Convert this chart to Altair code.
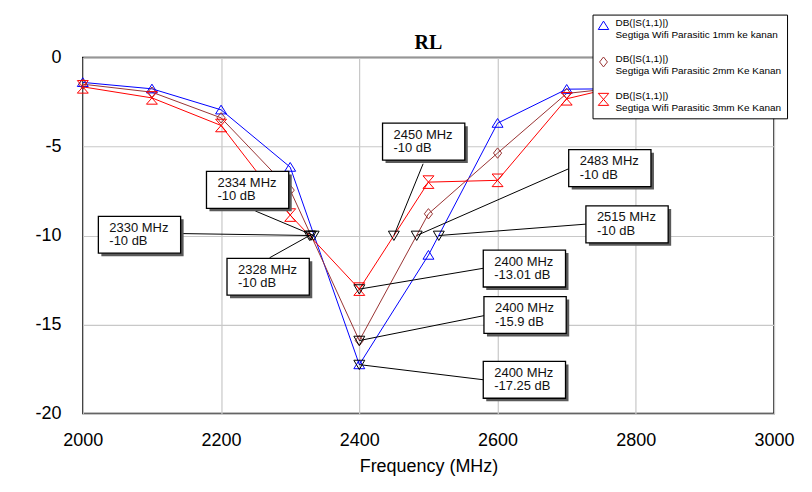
import altair as alt
import pandas as pd

# ---------------- data ----------------
freqs = [2000, 2100, 2200, 2300, 2400, 2500, 2600, 2700, 2800]
s11_1mm = [-1.40, -1.76, -2.94, -6.16, -17.25, -11.10, -3.69, -1.78, -1.75]
s11_2mm = [-1.50, -1.95, -3.39, -7.45, -15.90, -8.78, -5.37, -2.02, -1.60]
s11_3mm = [-1.65, -2.27, -3.82, -8.85, -13.01, -7.00, -6.90, -2.32, -1.40]

series_names = [
    "DB(|S(1,1)|)~Segtiga Wifi Parasitic 1mm ke kanan",
    "DB(|S(1,1)|)~Segtiga Wifi Parasitic 2mm Ke Kanan",
    "DB(|S(1,1)|)~Segtiga Wifi Parasitic 3mm Ke Kanan",
]

marker_freqs = [2334, 2330, 2328, 2450, 2483, 2515, 2400, 2400, 2400]
marker_dbs = [-10.0, -10.0, -10.0, -10.0, -10.0, -10.0, -13.01, -15.9, -17.25]

x_ticks = [2000, 2200, 2400, 2600, 2800, 3000]
y_ticks = [0, -5, -10, -15, -20]

# ---------------- layout (callout boxes, in axis units) ----------------
box_left = [2178.9, 2022.5, 2208.6, 2433.6, 2702.9, 2727.8, 2579.3, 2580.3, 2579.3]
box_top = [-6.40, -8.92, -11.28, -3.69, -5.18, -8.34, -10.82, -13.43, -17.07]
anchor_f = [2249.5, 2142.8, 2270.2, 2492.3, 2702.9, 2727.8, 2579.3, 2580.3, 2579.3]
anchor_v = [-8.62, -9.89, -11.25, -5.97, -6.25, -9.36, -11.84, -14.50, -18.10]
BOX_W = 119.0
BOX_H = 2.07

series_colors = ["#0000ff", "#993333", "#ff0000"]
series_shapes = [
    "M0,-0.85L1,0.75L-1,0.75Z",
    "M0,-0.95L0.75,0L0,0.95L-0.75,0Z",
    "M-1,-1.15L1,-1.15L-1,1.15L1,1.15Z",
]
marker_shape = "M-1,-0.8L1,-0.8L0,0.9Z"

rows = []
for name, vals in zip(series_names, [s11_1mm, s11_2mm, s11_3mm]):
    for f, v in zip(freqs, vals):
        rows.append({"series": name, "freq": f, "db": v})
df = pd.DataFrame(rows)

ann = pd.DataFrame({
    "mf": marker_freqs, "mv": marker_dbs,
    "bx": box_left, "by": box_top,
    "ax": anchor_f, "ay": anchor_v,
})
ann["bx2"] = ann["bx"] + BOX_W
ann["by2"] = ann["by"] - BOX_H
ann["line1"] = [f"{f} MHz" for f in marker_freqs]
ann["line2"] = [f"{v:g} dB" for v in marker_dbs]

FONT = "Liberation Sans"
xscale = alt.Scale(domain=[2000, 3000], nice=False, zero=False)
yscale = alt.Scale(domain=[-20, 0], nice=False, zero=False)

xaxis = alt.Axis(values=x_ticks, title="Frequency (MHz)", ticks=False, domain=False,
                 labelExpr="datum.value + ''",
                 labelFont=FONT, labelFontSize=18, labelColor="#000", labelPadding=18,
                 titleFont=FONT, titleFontSize=18, titleFontWeight="normal", titleColor="#000",
                 titlePadding=8, grid=True, gridColor="#c8c8c8", gridWidth=1.2,
                 labelOverlap=False, labelFlush=False)
yaxis = alt.Axis(values=y_ticks, title=None, ticks=False, domain=False,
                 labelExpr="datum.value + ''",
                 labelFont=FONT, labelFontSize=18, labelColor="#000", labelPadding=22,
                 grid=True, gridColor="#c8c8c8", gridWidth=1.2,
                 labelOverlap=False, labelFlush=False)

legend = alt.Legend(
    title=None, orient="none", legendX=511, legendY=-43,
    fillColor="#ffffff", strokeColor="#000000", padding=5,
    labelFont=FONT, labelFontSize=10, labelColor="#000", labelBaseline="alphabetic",
    labelExpr="[split(datum.label, '~')[0], split(datum.label, '~')[1] + '              ']",
    labelLimit=400, labelOffset=6, rowPadding=14.5, symbolSize=110, symbolStrokeWidth=1,
)
cscale = alt.Scale(domain=series_names, range=series_colors)
sscale = alt.Scale(domain=series_names, range=series_shapes)


def X(field):
    return alt.X(field, scale=xscale, axis=xaxis)


def Y(field):
    return alt.Y(field, scale=yscale, axis=yaxis)


base = alt.Chart(df)
lines = base.mark_line(strokeWidth=1).encode(
    x=X("freq:Q"), y=Y("db:Q"),
    color=alt.Color("series:N", scale=cscale, legend=legend),
    detail="series:N",
)
points = base.mark_point(filled=False, size=120, strokeWidth=1, opacity=1).encode(
    x=X("freq:Q"), y=Y("db:Q"),
    color=alt.Color("series:N", scale=cscale, legend=legend),
    shape=alt.Shape("series:N", scale=sscale, legend=legend),
)

abase = alt.Chart(ann)
leaders = abase.mark_rule(color="#000", strokeWidth=1).encode(
    x=X("mf:Q"), y=Y("mv:Q"), x2="ax:Q", y2="ay:Q",
)
markers = abase.mark_point(filled=False, size=120, strokeWidth=1, color="#000",
                           shape=marker_shape, opacity=1).encode(
    x=X("mf:Q"), y=Y("mv:Q"),
)
shadows = abase.mark_rect(fill="#5a5a5a", xOffset=3, x2Offset=3, yOffset=3, y2Offset=3).encode(
    x=X("bx:Q"), x2="bx2:Q", y=Y("by:Q"), y2="by2:Q",
)
boxes = abase.mark_rect(fill="#ffffff", stroke="#000", strokeWidth=1.3).encode(
    x=X("bx:Q"), x2="bx2:Q", y=Y("by:Q"), y2="by2:Q",
)
text1 = abase.mark_text(align="left", baseline="middle", dx=11, dy=11.5,
                        font=FONT, fontSize=13, color="#111").encode(
    x=X("bx:Q"), y=Y("by:Q"), text="line1:N",
)
text2 = abase.mark_text(align="left", baseline="middle", dx=11, dy=25,
                        font=FONT, fontSize=13, color="#111").encode(
    x=X("bx:Q"), y=Y("by:Q"), text="line2:N",
)

chart = alt.layer(lines, points, leaders, markers, shadows, boxes, text1, text2).properties(
    width=693, height=357,
    title=alt.TitleParams("RL", font="Liberation Serif", fontSize=20, fontWeight="bold",
                          color="#000", anchor="middle", offset=10, baseline="alphabetic",
                          dy=65),
    autosize=alt.AutoSizeParams(type="none"),
    padding={"left": 75, "top": 49, "right": 30, "bottom": 70},
    background="#ffffff",
).configure_view(stroke="#000", strokeWidth=1.5)

chart.save("out.html", embed_options={"renderer": "svg", "actions": False})
